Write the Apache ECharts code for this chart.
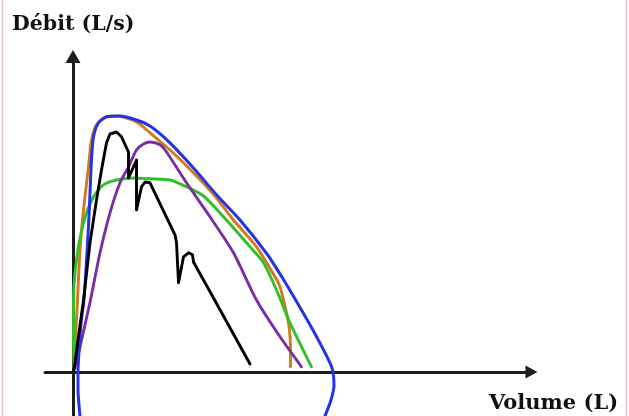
<!DOCTYPE html>
<html>
<head>
<meta charset="utf-8">
<script src="https://cdn.jsdelivr.net/npm/echarts@6/dist/echarts.min.js"></script>
<style>
html,body{margin:0;padding:0;background:#fff;}
#chart{width:629px;height:416px;}
</style>
</head>
<body>
<div id="chart"></div>
<script>
// Axis titles
const yTitle = 'Débit (L/s)';
const xTitle = 'Volume (L)';

// Courbes débit-volume : [volume (L), débit (L/s)]
const courbeBleue = [
  [0.16,-1.4],[0.14,-1.1],[0.12,-0.83],[0.10,-0.45],[0.10,0],[0.11,0.3],[0.14,0.93],[0.18,1.43],[0.22,1.8],
  [0.27,2.8],[0.31,3.63],[0.34,4.48],[0.37,5.3],[0.41,5.88],[0.51,6.23],[0.67,6.38],[0.94,6.4],
  [1.27,6.3],[1.54,6.15],[1.94,5.73],[2.41,5.1],[2.87,4.43],[3.34,3.8],[3.88,2.95],[4.2,2.33],
  [4.5,1.7],[4.82,1.0],[5.14,0.23],[5.20,0],[5.22,-0.33],[5.16,-0.7],[5.04,-1.1],[4.94,-1.4]
];
const courbeOrange = [
  [0.03,0.1],[0.04,0.3],[0.06,1.05],[0.09,1.8],[0.14,3.05],[0.21,4.05],[0.31,5.13],[0.37,5.8],
  [0.47,6.18],[0.67,6.38],[0.87,6.4],[1.27,6.25],[1.54,5.98],[1.94,5.55],[2.41,4.98],[2.87,4.35],
  [3.21,3.8],[3.67,3.13],[4.04,2.38],[4.14,2.13],[4.2,1.85],[4.27,1.48],[4.33,1.05],[4.35,0.55],[4.35,0.13]
];
const courbeVerte = [
  [0.02,0.1],[0.01,0.8],[0.01,1.8],[0.07,2.8],[0.21,3.73],[0.41,4.38],[0.61,4.68],[0.87,4.8],
  [1.21,4.85],[1.54,4.83],[1.94,4.8],[2.27,4.63],[2.61,4.4],[3.01,3.88],[3.47,3.23],[3.81,2.73],
  [4.07,2.05],[4.34,1.23],[4.77,0.13]
];
const courbeViolette = [
  [0.04,0.1],[0.14,0.63],[0.24,1.18],[0.35,1.8],[0.54,2.98],[0.74,3.98],[0.94,4.73],[1.11,5.13],
  [1.27,5.55],[1.41,5.7],[1.54,5.75],[1.74,5.68],[1.87,5.5],[2.27,4.73],[2.74,3.88],[3.21,2.98],
  [3.67,1.8],[4.14,0.88],[4.57,0.13]
];
const courbeNoire = [
  [0.02,0.05],[0.10,0.8],[0.21,1.8],[0.34,3.23],[0.47,4.3],[0.57,5.05],[0.67,5.73],[0.74,5.95],
  [0.87,6.0],[0.97,5.88],[1.11,5.5],[1.11,4.85],[1.27,5.3],[1.27,4.05],[1.37,4.63],[1.44,4.75],
  [1.54,4.73],[1.77,4.13],[2.04,3.43],[2.07,3.23],[2.11,2.23],[2.21,2.88],[2.31,2.98],[2.39,2.93],
  [2.41,2.75],[2.81,1.85],[3.54,0.2]
];

const chart = echarts.init(document.getElementById('chart'), null, {renderer:'canvas'});
const axisColor = '#1d1d1d';
function line(name, data, color, width, smooth){
  return {name, type:'line', data, showSymbol:false, symbol:'none', smooth,
    lineStyle:{color, width, join:'round', cap:'round'}, clip:true, animation:false};
}
chart.setOption({
  animation:false,
  backgroundColor:'#ffffff',
  grid:{left:45, right:97.5, top:56.5, bottom:0, containLabel:false},
  xAxis:{type:'value', min:-0.56, max:9.17,
    axisLine:{onZero:true, symbol:['none','triangle'], symbolSize:[13,12], lineStyle:{color:axisColor, width:3}},
    axisTick:{show:false}, axisLabel:{show:false}, splitLine:{show:false}},
  yAxis:{type:'value', min:-1.1, max:7.8875,
    axisLine:{show:true, onZero:true, symbol:['none','triangle'], symbolSize:[15,13], lineStyle:{color:axisColor, width:3}},
    axisTick:{show:false}, axisLabel:{show:false}, splitLine:{show:false}},
  series:[
    line('orange', courbeOrange, '#d27a1c', 2.9, 0.25),
    line('vert', courbeVerte, '#33bf2a', 2.9, 0.25),
    line('violet', courbeViolette, '#7a2ea6', 2.9, 0.25),
    line('bleu', courbeBleue, '#2433e6', 3, 0.25),
    line('noir', courbeNoire, '#000000', 2.9, false)
  ],
  graphic:[
    {type:'line', shape:{x1:2.5,y1:0,x2:2.5,y2:416}, style:{stroke:'#ecbcc0', lineWidth:1.5}},
    {type:'line', shape:{x1:626.5,y1:0,x2:626.5,y2:416}, style:{stroke:'#ecbcc0', lineWidth:1.5}},
    {type:'text', left:12, top:14, style:{text:yTitle, font:'bold 20.5px "DejaVu Serif"', fill:'#111'}},
    {type:'text', left:489, top:393, style:{text:xTitle, font:'bold 21px "DejaVu Serif"', fill:'#111'}}
  ]
});
</script>
</body>
</html>
